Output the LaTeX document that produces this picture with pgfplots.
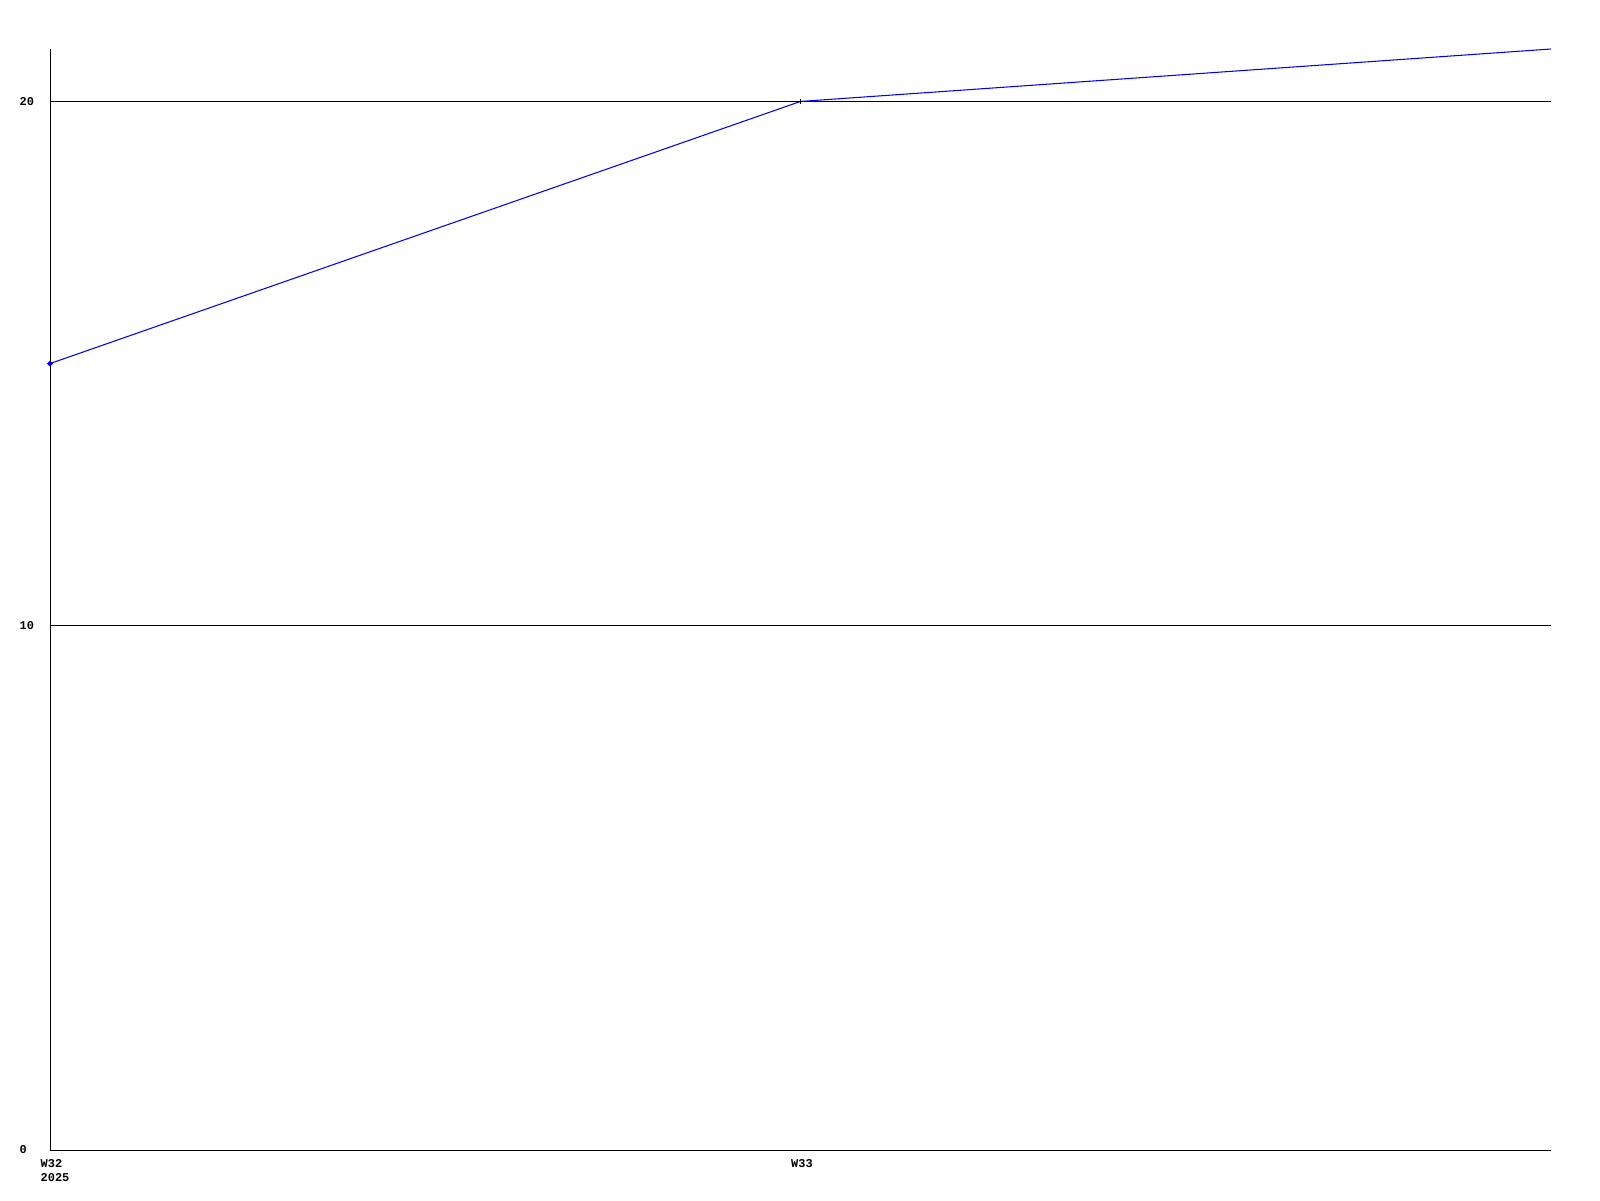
\documentclass[border=0pt]{standalone}
\usepackage{pgfplots}
\pgfplotsset{compat=1.18}
\usepackage{fontspec}
\setmainfont{Liberation Mono}
\begin{document}
\begin{tikzpicture}
\fill[white] (0,0) rectangle (16cm,12cm);
\useasboundingbox (0,0) rectangle (16cm,12cm);
\begin{axis}[
  at={(0.50cm,0.50cm)}, anchor=south west,
  width=15.01cm, height=11.01cm, scale only axis,
  xmin=0, xmax=2, ymin=0, ymax=21,
  axis x line=bottom, axis y line=left,
  axis line style={-, black, line width=0.28pt},
  xtick={0,1}, xticklabels={{W32\\2025},W33},
  ytick={0,10,20},
  ymajorgrids, grid style={black, line width=0.28pt},
  major tick length=0pt,
  tick label style={font=\fontsize{3.4}{3.8}\selectfont\bfseries},
  /pgf/number format/assume math mode=true,
  xticklabel style={anchor=north west, align=left, inner sep=0pt, xshift=-0.1cm, yshift=-0.09cm},
  yticklabel style={anchor=west, inner sep=0pt, xshift=-0.31cm},
  clip=false,
]
\addplot[blue, line width=0.3pt, mark=none] coordinates {(0,15) (1,20) (2,21)};
\addplot[blue, only marks, mark=*, mark size=0.55pt] coordinates {(0,15)};
\addplot[black, only marks, mark=+, mark size=0.7pt, line width=0.35pt] coordinates {(1,20)};
\end{axis}
\end{tikzpicture}
\end{document}
